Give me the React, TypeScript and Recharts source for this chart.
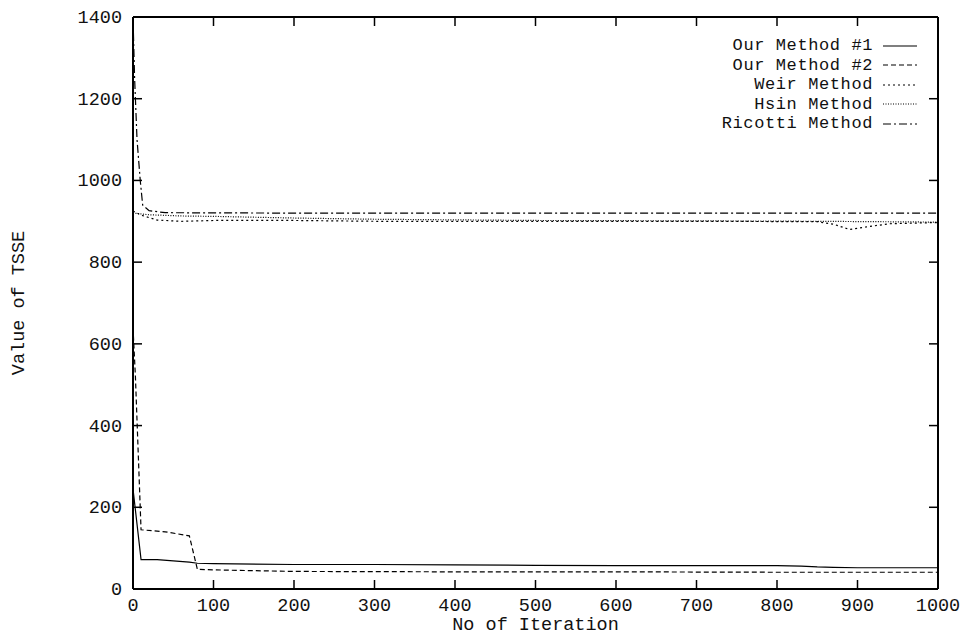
import React from "react";
import { LineChart, Line, XAxis, YAxis, Legend } from "recharts";

// iteration / TSSE pairs
const ourMethod1: [number, number][] = [
	[0, 245], [10, 72], [30, 72], [50, 69], [70, 66], [80, 63], [100, 62],
	[200, 60], [300, 60], [400, 59], [500, 58], [600, 57], [700, 57], [800, 57],
	[830, 56], [850, 54], [870, 53], [900, 52], [1000, 52],
];
const ourMethod2: [number, number][] = [
	[0, 640], [3, 520], [10, 145], [40, 140], [70, 130], [80, 48], [120, 46],
	[200, 43], [400, 42], [600, 42], [800, 41], [1000, 41],
];
const weirMethod: [number, number][] = [
	[0, 925], [10, 915], [30, 903], [60, 900], [100, 902], [200, 902], [300, 900],
	[500, 900], [700, 900], [850, 899], [870, 893], [890, 880], [910, 886],
	[940, 894], [1000, 897],
];
const hsinMethod: [number, number][] = [
	[0, 920], [20, 916], [60, 913], [100, 912], [200, 908], [300, 905],
	[500, 902], [700, 901], [850, 900], [1000, 898],
];
const ricottiMethod: [number, number][] = [
	[0, 1400], [2, 1250], [5, 1100], [9, 1000], [12, 940], [20, 926], [40, 921],
	[200, 920], [500, 920], [800, 920], [1000, 920],
];

const xTicks = [0, 100, 200, 300, 400, 500, 600, 700, 800, 900, 1000];
const yTicks = [0, 200, 400, 600, 800, 1000, 1200, 1400];

const seriesNames = ["Our Method #1", "Our Method #2", "Weir Method", "Hsin Method", "Ricotti Method"];
const seriesData = [ourMethod1, ourMethod2, weirMethod, hsinMethod, ricottiMethod];
const seriesDash = ["", "5 3", "2 3", "1 1.5", "8 3 2 3"];

const FONT = "'Courier New', Courier, 'Liberation Mono', monospace";
const FS = 18.5;
const KEY_FS = 17;
const KEY_ROW = 19.5;
const INK = "#111";

const toPoints = (pairs: [number, number][]) => pairs.map(([x, y]) => ({ x, y }));

function BottomTick(props: any) {
	const { x, y, payload } = props;
	return <g>
		<line x1={x} y1={y} x2={x} y2={y - 9} stroke="#000" strokeWidth={1.5} />
		<text x={x} y={y + 22} textAnchor="middle" fontFamily={FONT} fontSize={FS} fill={INK}>{payload.value}</text>
	</g>;
}

function LeftTick(props: any) {
	const { x, y, payload } = props;
	return <g>
		<line x1={x} y1={y} x2={x + 9} y2={y} stroke="#000" strokeWidth={1.5} />
		<text x={x - 11} y={y + 6} textAnchor="end" fontFamily={FONT} fontSize={FS} fill={INK}>{payload.value}</text>
	</g>;
}

function TopTick(props: any) {
	const { x, y } = props;
	return <line x1={x} y1={y} x2={x} y2={y + 9} stroke="#000" strokeWidth={1.5} />;
}

function RightTick(props: any) {
	const { x, y } = props;
	return <line x1={x} y1={y} x2={x - 9} y2={y} stroke="#000" strokeWidth={1.5} />;
}

function KeyBox() {
	return <div style={{ fontFamily: FONT, fontSize: KEY_FS, color: INK }}>
		{seriesNames.map((name, i) =>
			<div key={name} style={{ display: "flex", justifyContent: "flex-end", alignItems: "center", height: KEY_ROW }}>
				<span style={{ display: "block", whiteSpace: "pre", height: KEY_ROW, lineHeight: KEY_ROW + "px", letterSpacing: 0.6 }}>{name}</span>
				<svg width={47} height={10} style={{ display: "block" }}>
					<line x1={10} y1={5} x2={44} y2={5} stroke="#000" strokeWidth={1.2} strokeDasharray={seriesDash[i] || undefined} />
				</svg>
			</div>
		)}
	</div>;
}

export default function App() {
	return <div style={{ position: "fixed", left: 0, top: 0, width: 961, height: 636, background: "#fff" }}>
		<LineChart width={961} height={636} margin={{ top: 0, right: 0, bottom: 0, left: 0 }}>
			<XAxis
				type="number" dataKey="x" domain={[0, 1000]} ticks={xTicks} allowDataOverflow
				height={47} tickSize={0} tickMargin={0} tick={<BottomTick />}
				axisLine={{ stroke: "#000", strokeWidth: 2 }} tickLine={false}
				label={{
					content: (p: any) => <text x={p.viewBox.x + p.viewBox.width / 2} y={p.viewBox.y + 41} textAnchor="middle"
						fontFamily={FONT} fontSize={FS} fill={INK}>No of Iteration</text>
				}}
			/>
			<XAxis
				xAxisId="top" orientation="top" type="number" dataKey="x" domain={[0, 1000]} ticks={xTicks} allowDataOverflow
				height={17} tickSize={0} tickMargin={0} tick={<TopTick />}
				axisLine={{ stroke: "#000", strokeWidth: 2 }} tickLine={false}
			/>
			<YAxis
				type="number" domain={[0, 1400]} ticks={yTicks} allowDataOverflow
				width={133} tickSize={0} tickMargin={0} tick={<LeftTick />}
				axisLine={{ stroke: "#000", strokeWidth: 2 }} tickLine={false}
				label={{
					content: (p: any) => {
						const cx = 19;
						const cy = p.viewBox.y + p.viewBox.height / 2;
						return <text x={cx} y={cy} transform={`rotate(-90 ${cx} ${cy})`} textAnchor="middle" dominantBaseline="central"
							fontFamily={FONT} fontSize={FS} fill={INK}>Value of TSSE</text>;
					}
				}}
			/>
			<YAxis
				yAxisId="right" orientation="right" type="number" domain={[0, 1400]} ticks={yTicks} allowDataOverflow
				width={23} tickSize={0} tickMargin={0} tick={<RightTick />}
				axisLine={{ stroke: "#000", strokeWidth: 2 }} tickLine={false}
			/>
			{seriesNames.map((name, i) =>
				<Line
					key={name} name={name} data={toPoints(seriesData[i])} dataKey="y" type="linear"
					stroke="#000" strokeWidth={1.2} strokeDasharray={seriesDash[i] || undefined}
					dot={false} activeDot={false} isAnimationActive={false}
				/>
			)}
			<Legend
				layout="horizontal" verticalAlign="middle" align="center"
				content={() => <KeyBox />}
				wrapperStyle={{ position: "absolute", top: 36, left: 600, width: 320, height: 100 }}
			/>
		</LineChart>
	</div>;
}
